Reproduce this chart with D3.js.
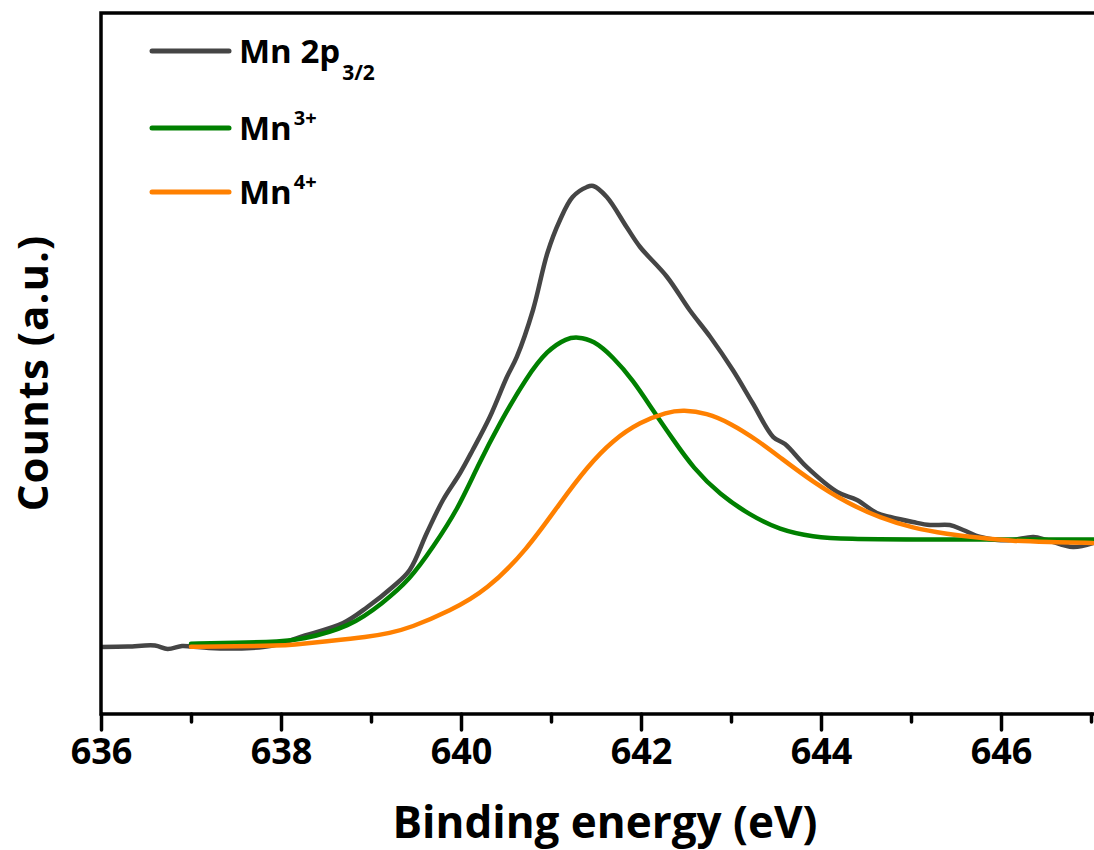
<!DOCTYPE html>
<html>
<head>
<meta charset="utf-8">
<script src="https://cdn.jsdelivr.net/npm/d3@7"></script>
<style>
  html, body { margin: 0; padding: 0; background: #fff; }
  svg { display: block; }
  text { font-family: "Open Sans", "Noto Sans", sans-serif; font-weight: 700; fill: #000; }
</style>
</head>
<body>
<svg id="chart" width="1094" height="850"></svg>
<script>
// ---- data (binding energy in eV, counts in arbitrary units) ----
const mnTotalEnergy = [636.00, 636.30, 636.60, 636.74, 636.90, 637.00, 637.20, 637.50, 637.80, 638.00,
  638.21, 638.69, 638.96, 639.24, 639.43, 639.62, 639.80, 639.99, 640.13, 640.32, 640.51, 640.62,
  640.80, 640.96, 641.10, 641.24, 641.40, 641.47, 641.62, 641.84, 641.99, 642.29,
  642.54, 642.77, 643.02, 643.24, 643.47, 643.60, 643.84, 644.18, 644.40, 644.62, 644.77, 645.02,
  645.21, 645.43, 645.58, 645.77, 645.96, 646.13, 646.36, 646.51, 646.80, 647.02];
const mnTotalCounts = [9.56, 9.63, 9.77, 9.27, 9.70, 9.63, 9.42, 9.34, 9.55, 10.06,
  10.98, 12.98, 15.26, 18.12, 20.54, 25.82, 30.53, 34.38, 37.66, 42.37, 48.07, 50.93,
  57.63, 65.76, 70.47, 73.75, 75.18, 75.32, 73.75, 69.47, 66.62, 62.34,
  57.63, 53.78, 49.07, 44.37, 39.51, 38.50, 35.24, 31.67, 30.53, 28.67, 28.10, 27.39,
  26.96, 26.96, 26.25, 25.25, 24.82, 24.82, 25.25, 24.82, 23.82, 24.39];

const mn3Energy = [637.00, 637.50, 638.00, 638.21, 638.77, 639.13, 639.43, 639.69, 639.96, 640.18,
  640.43, 640.73, 640.96, 641.18, 641.29, 641.47, 641.69, 641.91, 642.13, 642.36, 642.58,
  642.88, 643.21, 643.54, 643.91, 644.29, 645.02, 645.99, 647.03];
const mn3Counts = [10.03, 10.13, 10.34, 10.56, 12.41, 15.83, 19.12, 23.82, 29.10, 35.24,
  41.51, 48.07, 51.93, 53.64, 53.78, 53.35, 50.93, 47.65, 43.37, 39.09, 35.09,
  31.24, 28.39, 26.25, 25.25, 24.96, 24.89, 24.89, 24.89];

const mn4Energy = [637.00, 637.50, 638.00, 638.10, 638.54, 638.96, 639.21, 639.43, 639.88, 640.29,
  640.73, 641.10, 641.40, 641.69, 641.99, 642.29, 642.47, 642.73, 642.99, 643.29, 643.54, 643.91,
  644.29, 644.66, 645.02, 645.40, 645.77, 646.13, 646.51, 647.02];
const mn4Counts = [9.60, 9.63, 9.77, 9.84, 10.41, 10.98, 11.55, 12.27, 14.69, 17.69,
  23.39, 30.10, 35.24, 39.09, 41.65, 43.08, 43.37, 42.94, 41.51, 39.09, 36.66, 33.10,
  30.10, 27.96, 26.53, 25.68, 25.11, 24.68, 24.54, 24.39];

const majorTicks = [636, 638, 640, 642, 644, 646];
const minorTicks = [637, 639, 641, 643, 645, 647];
const xTitle = "Binding energy (eV)";
const yTitle = "Counts (a.u.)";

const seriesNames = ["Mn 2p", "Mn", "Mn"];
const seriesScripts = ["3/2", "3+", "4+"];
const seriesColors = ["#454545", "#008000", "#ff8000"];

// ---- layout ----
const svg = d3.select("#chart");
const pLeft = 101, pTop = 13, pBottom = 714, pRight = 1100;

const x = d3.scaleLinear().domain([636, 647.1]).range([pLeft, pRight]);
const y = d3.scaleLinear().domain([0, 100]).range([pBottom, pTop]);

const series = [
  { e: mnTotalEnergy, c: mnTotalCounts, curve: d3.curveCatmullRom.alpha(0.5) },
  { e: mn3Energy, c: mn3Counts, curve: d3.curveBasis },
  { e: mn4Energy, c: mn4Counts, curve: d3.curveBasis }
];

svg.append("defs").append("clipPath").attr("id", "plotclip")
  .append("rect").attr("x", pLeft).attr("y", pTop).attr("width", pRight - pLeft).attr("height", pBottom - pTop);

const plot = svg.append("g").attr("clip-path", "url(#plotclip)");
series.forEach((s, i) => {
  const pts = s.e.map((v, k) => [v, s.c[k]]);
  const line = d3.line().x(d => x(d[0])).y(d => y(d[1])).curve(s.curve);
  plot.append("path")
    .datum(pts)
    .attr("d", line)
    .attr("fill", "none")
    .attr("stroke", seriesColors[i])
    .attr("stroke-width", 4.5)
    .attr("stroke-linejoin", "round")
    .attr("stroke-linecap", "round");
});

// ---- axes / frame ----
const xAxisMajor = d3.axisBottom(x).tickValues(majorTicks).tickSize(16).tickSizeOuter(0).tickPadding(8)
  .tickFormat(d3.format("d"));
const gx = svg.append("g").attr("transform", `translate(0,${pBottom})`).call(xAxisMajor);
gx.select(".domain").remove();
gx.selectAll(".tick line").attr("stroke", "#000").attr("stroke-width", 3.5).attr("stroke-linecap", "round");
gx.selectAll(".tick text")
  .attr("font-family", "'Open Sans', sans-serif")
  .attr("font-weight", 700)
  .attr("font-size", 36)
  .attr("fill", "#000")
  .attr("dy", "0.71em");

const xAxisMinor = d3.axisBottom(x).tickValues(minorTicks).tickSize(8).tickFormat("");
const gxm = svg.append("g").attr("transform", `translate(0,${pBottom})`).call(xAxisMinor);
gxm.select(".domain").remove();
gxm.selectAll(".tick line").attr("stroke", "#000").attr("stroke-width", 3.5).attr("stroke-linecap", "round");

// frame: top, left, bottom
svg.append("path")
  .attr("d", `M${pRight},${pTop} L${pLeft},${pTop} L${pLeft},${pBottom} L${pRight},${pBottom}`)
  .attr("fill", "none").attr("stroke", "#000").attr("stroke-width", 3.5)
  .attr("stroke-linejoin", "miter");

// ---- titles ----
svg.append("text")
  .attr("x", 605).attr("y", 838)
  .attr("text-anchor", "middle")
  .attr("font-size", 44)
  .text(xTitle);

svg.append("text")
  .attr("transform", "translate(48,373) rotate(-90)")
  .attr("text-anchor", "middle")
  .attr("font-size", 42)
  .attr("letter-spacing", 1)
  .text(yTitle);

// ---- legend ----
const legendLineY = [51, 128, 192];
const legend = svg.append("g");
series.forEach((s, i) => {
  const ly = legendLineY[i];
  legend.append("line")
    .attr("x1", 152).attr("x2", 229).attr("y1", ly).attr("y2", ly)
    .attr("stroke", seriesColors[i]).attr("stroke-width", 5).attr("stroke-linecap", "round");
  const t = legend.append("text").attr("x", 239).attr("y", ly + 12).attr("font-size", 33);
  t.append("tspan").text(seriesNames[i]);
  if (i === 0) {
    t.append("tspan").attr("font-size", 21).attr("dx", 2).attr("dy", 17).text(seriesScripts[i]);
  } else {
    t.append("tspan").attr("font-size", 20).attr("dx", 2).attr("dy", -15).text(seriesScripts[i]);
  }
});
</script>
</body>
</html>
